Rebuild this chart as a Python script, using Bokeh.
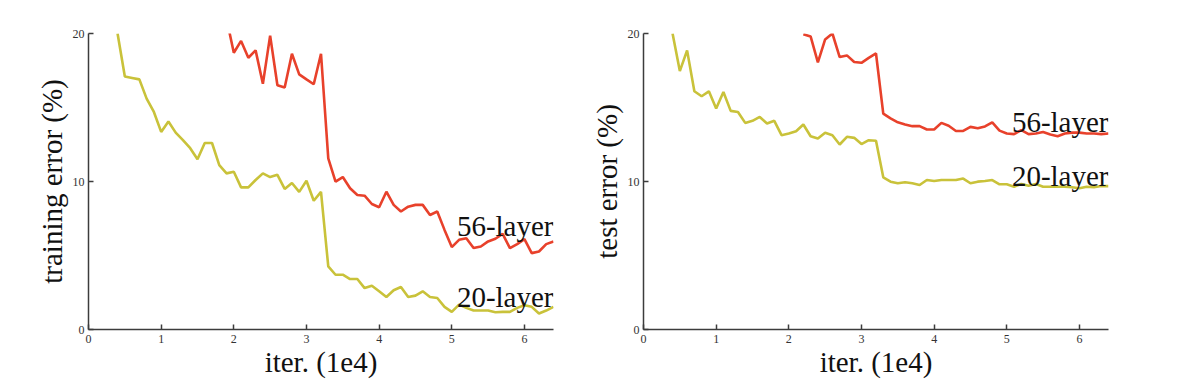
from bokeh.plotting import figure
from bokeh.layouts import row
from bokeh.models import FixedTicker, Range1d
from bokeh.core.properties import value
from bokeh.embed import file_html
from bokeh.resources import INLINE

# ---- data ----
iters = [0.4, 0.5, 0.6, 0.7, 0.8, 0.9, 1.0, 1.1, 1.2, 1.3,
         1.4, 1.5, 1.6, 1.7, 1.8, 1.9, 2.0, 2.1, 2.2, 2.3,
         2.4, 2.5, 2.6, 2.7, 2.8, 2.9, 3.0, 3.1, 3.2, 3.3,
         3.4, 3.5, 3.6, 3.7, 3.8, 3.9, 4.0, 4.1, 4.2, 4.3,
         4.4, 4.5, 4.6, 4.7, 4.8, 4.9, 5.0, 5.1, 5.2, 5.3,
         5.4, 5.5, 5.6, 5.7, 5.8, 5.9, 6.0, 6.1, 6.2, 6.3,
         6.4]

train_20 = [20.0, 17.1, 17.0, 16.9, 15.6, 14.7, 13.35, 14.05, 13.3, 12.8,
            12.25, 11.5, 12.6, 12.6, 11.1, 10.55, 10.66, 9.6, 9.6, 10.1,
            10.55, 10.3, 10.45, 9.5, 9.9, 9.3, 10.05, 8.7, 9.3, 4.26,
            3.7, 3.7, 3.41, 3.41, 2.8, 2.96, 2.58, 2.2, 2.65, 2.87,
            2.2, 2.29, 2.58, 2.2, 2.13, 1.53, 1.19, 1.68, 1.46, 1.28,
            1.28, 1.28, 1.17, 1.19, 1.19, 1.46, 1.64, 1.53, 1.08, 1.28,
            1.53]

train_56_iters = iters[15:]   # from 1.9
train_56 = [21.0, 18.7, 19.5, 18.36, 18.86, 16.6, 19.86, 16.5, 16.35, 18.63,
            17.24, 16.9, 16.57, 18.63, 11.56, 9.99, 10.3, 9.54, 9.09, 9.04,
            8.48, 8.26, 9.31, 8.42, 7.97, 8.3, 8.42, 8.42, 7.74, 7.97,
            6.73, 5.57, 6.06, 6.17, 5.5, 5.61, 5.95, 6.13, 6.46, 5.5,
            5.77, 6.11, 5.16, 5.27, 5.77, 5.95]

test_20 = [20.0, 17.46, 18.86, 16.1, 15.76, 16.09, 14.93, 16.05, 14.77, 14.7,
           13.96, 14.1, 14.36, 13.92, 14.1, 13.13, 13.24, 13.4, 13.85, 13.06,
           12.9, 13.3, 13.13, 12.5, 13.02, 12.95, 12.53, 12.79, 12.75, 10.28,
           9.99, 9.88, 9.95, 9.88, 9.76, 10.1, 10.03, 10.1, 10.1, 10.1,
           10.2, 9.88, 9.99, 10.03, 10.1, 9.81, 9.81, 9.65, 9.83, 9.72,
           9.83, 9.65, 9.65, 9.65, 9.65, 9.61, 9.54, 9.65, 9.61, 9.69,
           9.69]

test_56_iters = iters[18:]    # from 2.2
test_56 = [19.95, 19.8, 18.05, 19.6, 20.0, 18.41, 18.52, 18.08, 18.02, 18.35,
           18.65, 14.59, 14.26, 14.0, 13.85, 13.74, 13.74, 13.51, 13.51, 13.96,
           13.77, 13.41, 13.42, 13.69, 13.6, 13.72, 14.0, 13.44, 13.24, 13.2,
           13.47, 13.2, 13.24, 13.35, 13.18, 13.06, 13.24, 13.3, 13.3, 13.24,
           13.24, 13.2, 13.24]

series_names = ["56-layer", "20-layer"]
x_ticks = [0, 1, 2, 3, 4, 5, 6]
y_ticks = [0, 10, 20]

# label anchors (annotation positions in data units)
train_label_y = [6.96, 2.19]
test_label_y = [14.03, 10.37]
label_x = [6.4, 6.4]

RED = "#e8412b"
YELLOW = "#c9c23a"
SERIF = "Liberation Serif"


def make_fig(width, border_left, border_right, ylabel):
    p = figure(width=width, height=380,
               x_range=Range1d(0, 6.4), y_range=Range1d(0, 20),
               output_backend="svg", toolbar_location=None,
               min_border_left=border_left, min_border_right=border_right,
               min_border_top=33, min_border_bottom=50)
    p.outline_line_color = None
    p.xgrid.visible = False
    p.ygrid.visible = False
    p.background_fill_color = "white"
    p.border_fill_color = "white"
    for ax in (p.xaxis[0], p.yaxis[0]):
        ax.major_tick_in = 5
        ax.major_tick_out = 0
        ax.minor_tick_line_color = None
        ax.axis_line_color = "#3c3c3c"
        ax.axis_line_width = 1.5
        ax.major_tick_line_color = "#3c3c3c"
        ax.major_tick_line_width = 1.5
        ax.major_label_text_font = SERIF
        ax.major_label_text_font_size = "12px"
        ax.major_label_text_color = "#333333"
        ax.axis_label_text_font = SERIF
        ax.axis_label_text_font_size = "29px"
        ax.axis_label_text_font_style = "normal"
        ax.axis_label_text_color = "#111111"
    p.xaxis.ticker = FixedTicker(ticks=x_ticks)
    p.yaxis.ticker = FixedTicker(ticks=y_ticks)
    p.xaxis.axis_label = "iter. (1e4)"
    p.yaxis.axis_label = ylabel
    p.xaxis.major_label_standoff = 5
    p.yaxis.major_label_standoff = 4
    p.xaxis.axis_label_standoff = 0
    p.yaxis.axis_label_standoff = 2
    return p


p1 = make_fig(563, 88, 10, "training error (%)")
p1.line(iters, train_20, line_color=YELLOW, line_width=2.6)
p1.line(train_56_iters, train_56, line_color=RED, line_width=2.6)
p1.text(x=label_x, y=train_label_y, text=series_names,
        text_font=value(SERIF), text_font_size="29px",
        text_align="right", text_baseline="alphabetic", text_color="#111111")

p2 = make_fig(565, 80, 20, "test error (%)")
p2.line(iters, test_20, line_color=YELLOW, line_width=2.6)
p2.line(test_56_iters, test_56, line_color=RED, line_width=2.6)
p2.text(x=label_x, y=test_label_y, text=series_names,
        text_font=value(SERIF), text_font_size="29px",
        text_align="right", text_baseline="alphabetic", text_color="#111111")

layout = row(p1, p2)
open("out.html", "w").write(file_html(layout, INLINE))
